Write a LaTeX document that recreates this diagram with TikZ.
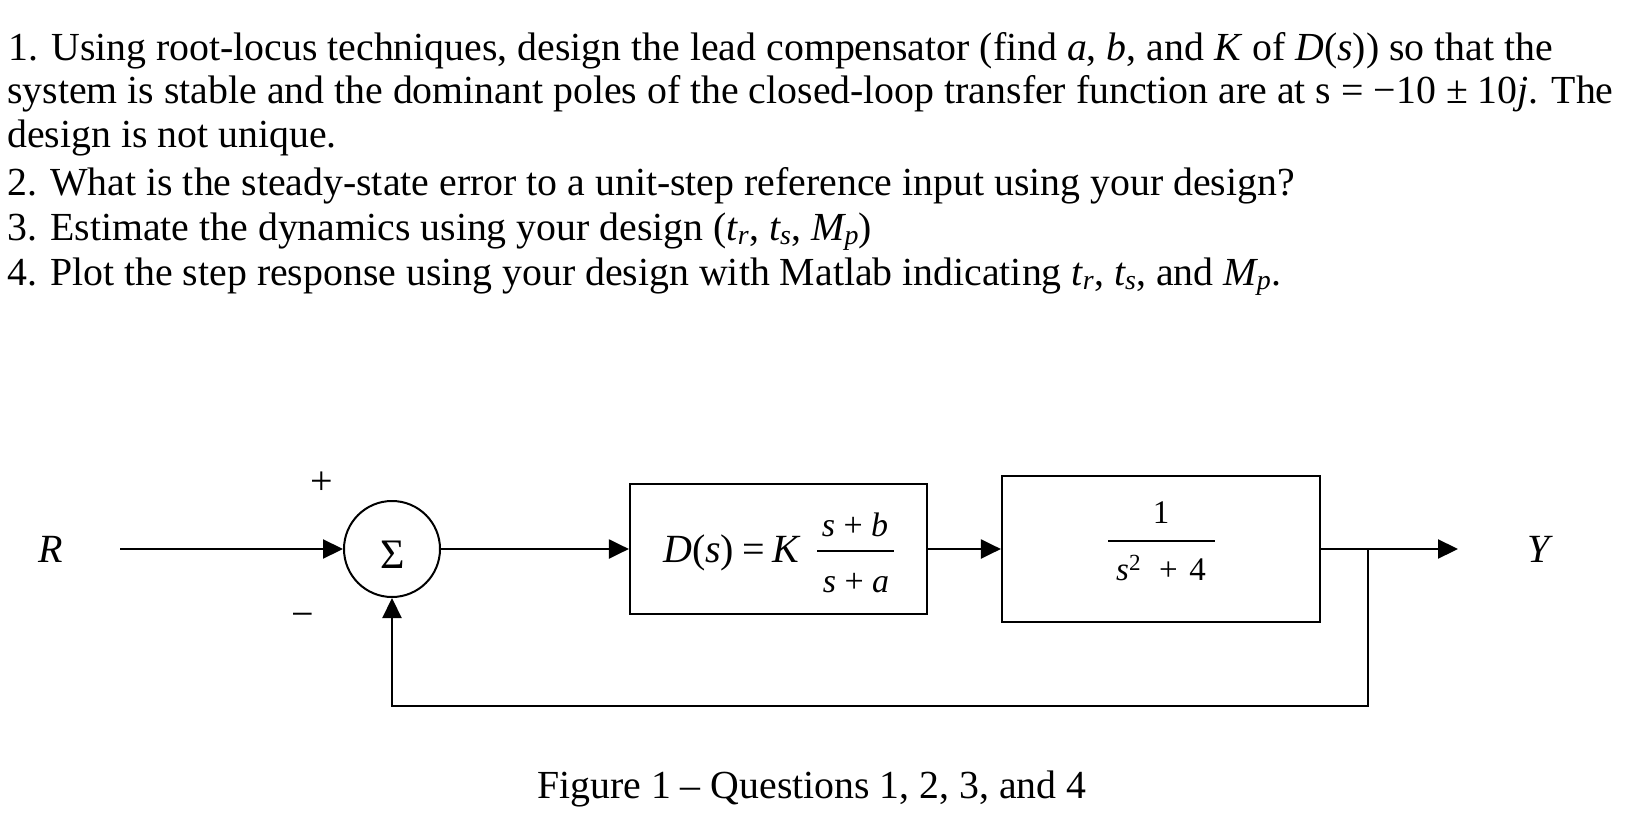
\documentclass[tikz,border=0pt]{standalone}
\usepackage{amsmath}
\usepackage{fontspec}
\setmainfont{Liberation Serif}
\usetikzlibrary{arrows.meta}
\begin{document}
\begin{tikzpicture}[x=1pt,y=-1pt,
  txt/.style={anchor=base west, inner sep=0pt, font=\fontsize{39.8}{46}\selectfont},
  lbl/.style={inner sep=0pt, font=\fontsize{40}{46}\selectfont},
  small/.style={inner sep=0pt, anchor=base, font=\fontsize{34}{36}\selectfont},
  gfont/.style={inner sep=0pt, anchor=base, font=\fontsize{33}{35}\selectfont},
  blk/.style={draw, line width=2.2pt, inner sep=0pt},
  wire/.style={line width=2.2pt},
  sig/.style={line width=2.2pt, -{Triangle[length=20pt,width=19pt]}},
  bar/.style={line width=2pt}]
\useasboundingbox (0,0) rectangle (1650,824);
% question text
\node[txt] (q1a) at (8,61) {1. Using root-locus techniques, design the lead compensator (find \textit{a}, \textit{b}, and \textit{K} of \textit{D}(\textit{s})) so that the};
\node[txt] (q1b) at (7,104) {system is stable and the dominant poles of the closed-loop transfer function are at s = −10 ± 10\textit{j}. The};
\node[txt] (q1c) at (7,148) {design is not unique.};
\node[txt] (q2) at (7,196) {2. What is the steady-state error to a unit-step reference input using your design?};
\node[txt] (q3) at (7,240) {3. Estimate the dynamics using your design ($\textit{t}_{\textit{r}}$, $\textit{t}_{\textit{s}}$, $\textit{M}_{\textit{p}}$)};
\node[txt] (q4) at (7,285) {4. Plot the step response using your design with Matlab indicating $\textit{t}_{\textit{r}}$, $\textit{t}_{\textit{s}}$, and $\textit{M}_{\textit{p}}$.};
% block diagram
\node[lbl, anchor=base] (R) at (51,562) {\textit{R}};
\node[lbl, anchor=base] (Y) at (1540,562) {\textit{Y}};
\node[lbl] (plus) at (322,483) {+};
\node[lbl] (minus) at (303,620) {−};
\node[draw, circle, line width=2pt, minimum size=96pt, inner sep=0pt] (sum) at (392,549) {};
\node[lbl, font=\fontsize{42}{44}\selectfont] (sigma) at (393,555) {Σ};
\node[blk, minimum width=297pt, minimum height=130pt] (D) at (778.5,549) {};
\node[lbl, anchor=base west] (Dlhs) at (663,562) {\textit{D}(\textit{s})\hspace{0.2em}=\hspace{0.2em}\textit{K}};
\node[small] (Dnum) at (855,536) {\textit{s}\hspace{0.25em}+\hspace{0.25em}\textit{b}};
\node[small] (Dden) at (856,592) {\textit{s}\hspace{0.25em}+\hspace{0.25em}\textit{a}};
\draw[bar] (817,551) -- (894,551);
\node[blk, minimum width=318pt, minimum height=146pt] (G) at (1161,549) {};
\node[gfont] (Gnum) at (1161,523) {1};
\node[gfont] (Gden) at (1161,580) {\textit{s}\textsuperscript{2}\hspace{0.55em}+\hspace{0.35em}4};
\draw[bar] (1108,541) -- (1215,541);
\coordinate (rin) at (120,549);
\coordinate (br) at (1368,549);
\coordinate (yout) at (1458,549);
\coordinate (fb) at (392,706);
\draw[sig] (rin) -- (sum.west);
\draw[sig] (sum.east) -- (D.west);
\draw[sig] (D.east) -- (G.west);
\draw[wire] (G.east) -- (br);
\draw[sig] (br) -- (yout);
\draw[sig] (br) |- (fb) -- (sum.south);
% caption
\node[txt] (cap) at (537,798) {Figure 1 – Questions 1, 2, 3, and 4};
\end{tikzpicture}
\end{document}
